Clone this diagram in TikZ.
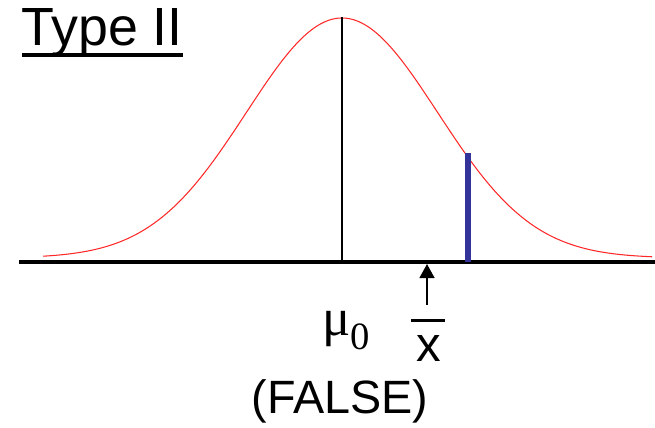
\documentclass[tikz,border=0pt]{standalone}
\usepackage{fontspec}
\setmainfont{Liberation Sans}
\newfontfamily\timesfont{Liberation Serif}
\usepackage{tikz}
\usetikzlibrary{arrows.meta,positioning,calc}
\definecolor{barblue}{RGB}{51,51,153}
\definecolor{curvered}{RGB}{255,40,40}
\tikzset{
  axisline/.style={line width=2.2pt, black},
  meanline/.style={line width=1.2pt, black},
  cutline/.style={line width=3.4pt, barblue},
  curve/.style={line width=0.6pt, curvered},
  arrow/.style={-{Triangle[length=8pt, width=8.5pt]}, line width=1pt, black},
  lbl/.style={inner sep=0pt, font=\fontsize{26.6}{30}\selectfont},
}
\begin{document}
\begin{tikzpicture}[x=0.02cm, y=-0.02cm]
  \useasboundingbox (0,0) rectangle (655,427);
  % axis and density curve
  \coordinate (axl) at (19,262);
  \coordinate (axr) at (655,262);
  \draw[axisline] (axl) -- (axr);
  \draw[curve] plot[domain=43:652, samples=150, smooth]
    (\x, {258 - 240*exp(-0.5*((\x-342)/95.6)^2)});
  % mean and cutoff
  \coordinate (peak) at (342,17);
  \coordinate (mubase) at (342,262);
  \draw[meanline] (peak) -- (mubase);
  \coordinate (cuttop) at (468,153);
  \coordinate (cutbot) at (468,262);
  \draw[cutline] (cuttop) -- (cutbot);
  % labels
  \node[lbl, anchor=base west, font=\fontsize{30.6}{34}\selectfont] (title) at (21,45) {Type II};
  \draw[line width=1.8pt] ($(title.base west)+(1,10)$) -- ($(title.base east)+(0,10)$);
  \node[lbl, anchor=base, font=\fontsize{30}{34}\selectfont\timesfont] (mu) at (346,335)
    {μ\raisebox{-0.28em}{\fontsize{22}{24}\selectfont 0}};
  \node[lbl, anchor=base, font=\fontsize{28}{30}\selectfont] (xbar) at (429,361) {x};
  \draw[line width=1.8pt] ($(xbar.north)+(-18,-14)$) -- ($(xbar.north)+(16,-14)$);
  \coordinate (arrtail) at (427,305);
  \coordinate (arrtip) at (427,264);
  \draw[arrow] (arrtail) -- (arrtip);
  \node[lbl, anchor=base] (false) at (340,413) {(FALSE)};
\end{tikzpicture}
\end{document}
